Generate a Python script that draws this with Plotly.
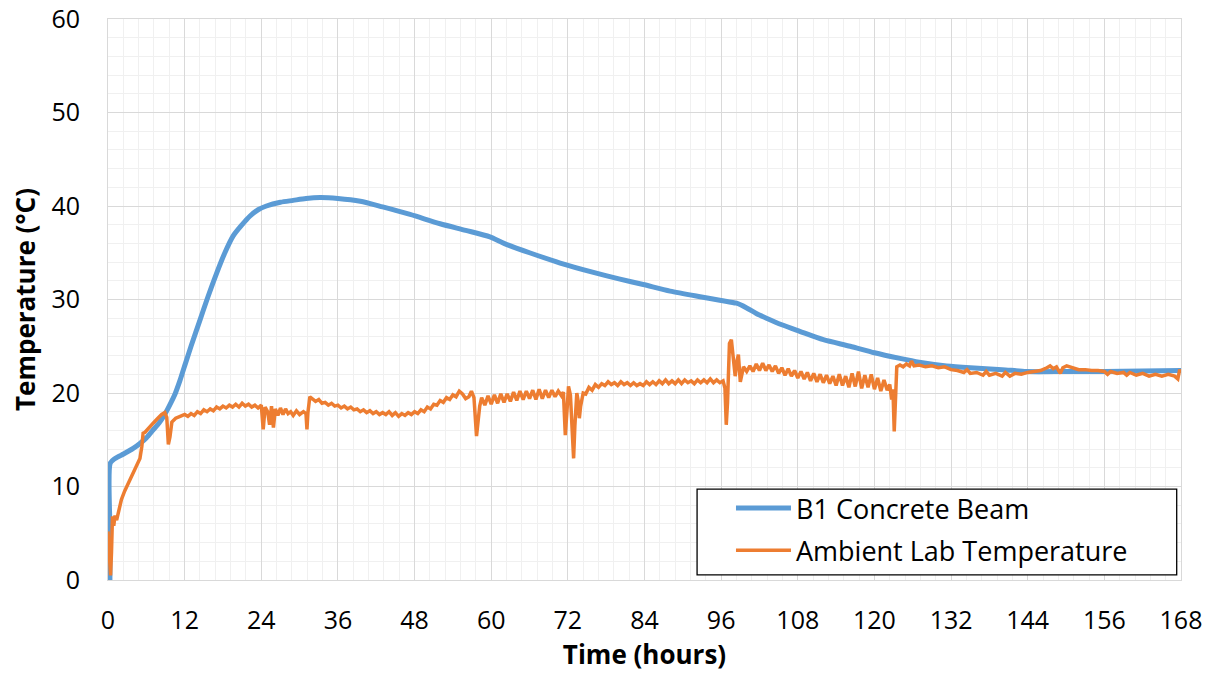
import plotly.graph_objects as go

# ---------------- data ----------------
beam_hours = [0.30, 0.32, 0.35, 1.1, 2.5, 4.0, 5.0, 6.0, 7.0, 8.0, 8.7, 9.5, 10.5, 11.3, 12.0,
              13.0, 14.4, 15.5, 17.0, 18.3, 19.6, 21.0, 22.2, 23.5, 24.8, 27.0, 29.0, 31.0,
              33.2, 36.0, 39.5, 43.0, 47.3, 52.0, 56.0, 59.8, 62.0, 66.0, 70.8, 76.0, 80.0,
              83.8, 88.0, 92.7, 96.0, 98.4, 100.0, 101.5, 103.1, 105.5, 108.3, 112.0, 116.2,
              120.0, 124.0, 127.0, 131.3, 135.0, 140.0, 143.8, 150.0, 156.0, 162.0, 168.0]
beam_temp = [0.0, 5.0, 12.5, 13.0, 13.5, 14.1, 14.6, 15.2, 16.0, 16.8, 17.5, 18.5, 19.9, 21.4, 22.9,
             25.0, 27.8, 30.0, 32.8, 35.0, 36.8, 38.0, 38.9, 39.6, 40.0, 40.4, 40.6, 40.8,
             40.9, 40.8, 40.5, 39.9, 39.1, 38.1, 37.4, 36.7, 36.0, 35.0, 33.9, 32.9, 32.2,
             31.6, 30.9, 30.3, 29.9, 29.6, 29.1, 28.5, 28.0, 27.3, 26.6, 25.7, 25.0,
             24.3, 23.7, 23.3, 22.9, 22.7, 22.5, 22.3, 22.3, 22.3, 22.35, 22.4]

ambient_hours = [
    0.0, 0.2, 0.4, 0.55, 0.7, 0.9, 1.1, 1.35, 1.7, 2.1, 2.6, 3.2, 3.7, 4.2, 4.6, 5.0, 5.3, 5.5,
    5.8, 6.4, 7.1, 7.8, 8.4, 8.9, 9.2, 9.45, 9.7, 10.0, 10.6, 11.3, 12.0,
    12.5, 13.0, 13.5, 14.0, 14.5, 15.0, 15.5, 16.0, 16.5, 17.0, 17.5, 18.0, 18.5, 19.0, 19.5,
    20.0, 20.5, 21.0, 21.5, 22.0, 22.5, 23.0, 23.5, 24.0,
    24.3, 24.6, 25.0, 25.3, 25.6, 25.9, 26.2, 26.6, 27.0, 27.4, 27.8, 28.2, 28.6, 29.0, 29.5,
    30.0, 30.6, 31.0, 31.15, 31.3, 31.6, 32.0, 32.5, 33.0, 33.5, 34.0, 34.5, 35.0, 35.5, 36.0,
    36.5, 37.0, 37.5, 38.0, 38.5, 39.0, 39.5, 40.0, 40.5, 41.0, 41.5, 42.0, 42.5, 43.0, 43.5,
    44.0, 44.5, 45.0, 45.5, 46.0, 46.5, 47.0, 47.5, 48.0, 48.5, 49.0, 49.5, 50.0, 50.5, 51.0,
    51.5, 52.0, 52.5, 53.0, 53.5, 54.0, 54.5, 55.0, 55.5, 56.0, 56.5, 56.9, 57.3, 57.7, 58.0,
    58.2, 58.5, 59.0, 59.5, 60.0, 60.5, 61.0, 61.5, 62.0, 62.5, 63.0, 63.5, 64.0, 64.5, 65.0,
    65.5, 66.0, 66.5, 67.0, 67.5, 68.0, 68.5, 69.0, 69.5, 70.0, 70.5, 71.0, 71.3, 71.6, 71.9,
    72.1, 72.4, 72.7, 72.9, 73.1, 73.4, 73.6, 73.8, 74.0, 74.4, 74.8, 75.3, 75.8, 76.3, 76.8,
    77.3, 77.8, 78.3, 78.8, 79.3, 79.8, 80.3, 80.8, 81.3, 81.8, 82.3, 82.8, 83.3, 83.8, 84.3,
    84.8, 85.3, 85.8, 86.3, 86.8, 87.3, 87.8, 88.3, 88.8, 89.3, 89.8, 90.3, 90.8, 91.3, 91.8,
    92.3, 92.8, 93.3, 93.8, 94.3, 94.8, 95.3, 95.8, 96.3, 96.6, 96.8, 97.0, 97.3, 97.6, 97.9,
    98.2, 98.5, 98.7, 99.0, 99.2, 99.5, 100.0, 100.5, 101.0, 101.5, 102.0, 102.5, 103.0, 103.5,
    104.0, 104.5, 105.0, 105.5, 106.0, 106.5, 107.0, 107.5, 108.0, 108.5, 109.0, 109.5, 110.0,
    110.5, 111.0, 111.5, 112.0, 112.5, 113.0, 113.5, 114.0, 114.5, 115.0, 115.5, 116.0, 116.5,
    117.0, 117.5, 118.0, 118.5, 119.0, 119.5, 120.0, 120.5, 121.0, 121.5, 122.0, 122.4, 122.7,
    122.9, 123.1, 123.3, 123.5, 124.0, 124.5, 125.0, 125.5, 125.8, 126.2, 127.0, 128.0, 129.0,
    130.0, 131.0, 132.0, 133.0, 134.0, 134.5, 135.0, 136.0, 137.0, 137.5, 138.0, 139.0, 140.0,
    140.5, 141.2, 142.0, 143.0, 144.0, 145.0, 146.0, 147.0, 147.5, 148.0, 148.5, 149.1, 149.5,
    150.1, 151.0, 152.0, 153.0, 154.0, 155.0, 156.0, 156.5, 157.0, 158.0, 159.0, 159.5, 160.0,
    161.0, 162.0, 163.0, 164.0, 165.0, 166.0, 167.0, 167.5, 167.8, 168.0]
ambient_temp = [
    5.2, 2.0, 0.5, 3.0, 6.8, 5.8, 6.9, 6.4, 7.6, 8.6, 9.5, 10.4, 11.1, 11.8, 12.4, 13.0, 14.3, 15.7,
    15.8, 16.3, 16.8, 17.3, 17.7, 17.9, 17.4, 14.5, 15.3, 16.9, 17.3, 17.5, 17.7,
    17.5, 17.8, 17.6, 18.0, 17.8, 18.2, 18.0, 18.3, 18.1, 18.5, 18.3, 18.6, 18.4, 18.7, 18.5,
    18.8, 18.5, 18.9, 18.6, 18.8, 18.5, 18.7, 18.4, 18.7,
    16.1, 18.5, 18.0, 16.6, 18.6, 16.3, 18.3, 17.6, 18.4, 17.7, 18.3, 17.8, 18.0, 17.6, 18.1,
    17.7, 18.0, 17.8, 16.1, 17.9, 19.6, 19.4, 19.1, 19.3, 18.9, 19.0, 18.7, 18.9, 18.6, 18.7,
    18.4, 18.6, 18.3, 18.5, 18.2, 18.3, 18.0, 18.2, 17.9, 18.1, 17.8, 18.0, 17.7, 17.9, 17.7,
    18.0, 17.6, 17.9, 17.5, 17.8, 17.6, 17.9, 17.7, 18.0, 17.8, 18.2, 18.0, 18.5, 18.3, 18.8,
    18.7, 19.2, 19.0, 19.5, 19.3, 19.8, 19.6, 20.2, 19.9, 19.4, 19.6, 20.2, 19.5, 15.4, 17.5,
    18.6, 19.5, 18.7, 19.7, 18.8, 19.8, 18.9, 19.9, 19.0, 19.9, 19.1, 20.1, 19.2, 20.2, 19.3,
    20.2, 19.4, 20.3, 19.3, 20.4, 19.4, 20.3, 19.5, 20.3, 19.6, 20.2, 19.7, 20.1, 15.5, 18.5,
    20.7, 19.8, 16.0, 13.0, 16.5, 20.0, 19.2, 17.3, 18.6, 20.0, 19.9, 20.6, 20.3, 20.9, 20.6,
    21.0, 20.8, 21.2, 20.9, 21.1, 20.8, 21.2, 20.9, 21.1, 20.8, 21.1, 20.8, 21.0, 20.8, 21.2,
    20.9, 21.2, 20.9, 21.3, 21.0, 21.4, 21.0, 21.3, 21.0, 21.4, 21.0, 21.4, 21.1, 21.3, 21.0,
    21.4, 21.1, 21.4, 21.1, 21.5, 21.1, 21.4, 21.1, 21.3, 20.5, 16.6, 19.0, 25.3, 25.7, 23.9,
    21.8, 23.5, 24.1, 21.2, 22.0, 22.8, 22.3, 22.9, 22.3, 23.1, 22.4, 23.2, 22.4, 23.0,
    22.3, 22.9, 22.1, 22.7, 21.9, 22.6, 21.8, 22.4, 21.6, 22.3, 21.5, 22.2, 21.3,
    22.1, 21.2, 22.0, 21.1, 21.9, 21.0, 21.8, 20.8, 22.0, 20.8, 21.8, 20.6, 22.1,
    20.7, 22.3, 20.5, 21.9, 20.6, 22.0, 20.4, 21.6, 20.2, 21.4, 20.3, 20.9, 19.3,
    20.4, 15.9, 19.5, 22.8, 23.0, 22.8, 23.1, 22.9, 23.4, 22.9, 23.0, 22.8, 22.9,
    22.7, 22.8, 22.5, 22.4, 22.2, 22.5, 22.1, 22.2, 21.9, 22.3, 21.9, 22.1, 21.8,
    22.2, 21.8, 22.1, 22.0, 22.2, 22.3, 22.4, 22.7, 22.9, 22.6, 22.8, 22.1, 22.7,
    22.9, 22.7, 22.5, 22.5, 22.4, 22.4, 22.3, 22.0, 22.3, 22.1, 22.2, 21.9, 22.2,
    21.9, 22.1, 21.8, 22.0, 21.8, 22.0, 21.8, 21.5, 22.5, 22.2]

x_ticks = [0, 12, 24, 36, 48, 60, 72, 84, 96, 108, 120, 132, 144, 156, 168]
y_ticks = [0, 10, 20, 30, 40, 50, 60]

FONT = "Open Sans"

fig = go.Figure()
fig.add_trace(go.Scatter(x=beam_hours, y=beam_temp, mode="lines", name="B1 Concrete Beam",
                         line=dict(color="#5B9BD5", width=5, shape="spline", smoothing=0.7),
                         legendgroup="a"))
fig.add_trace(go.Scatter(x=ambient_hours, y=ambient_temp, mode="lines",
                         name="Ambient Lab Temperature",
                         line=dict(color="#ED7D31", width=3.5), legendgroup="b"))

axis_common = dict(
    showgrid=True, gridcolor="#d9d9d9", gridwidth=1, automargin=False,
    zeroline=False, showline=True, linecolor="#d9d9d9", linewidth=1, mirror=True,
    ticks="", tickfont=dict(family=FONT, size=25, color="#000000"),
)

fig.update_xaxes(
    range=[0, 168], tickmode="array", tickvals=x_ticks, ticktext=[str(v) for v in x_ticks],
    minor=dict(dtick=2.4, tick0=0, showgrid=True, gridcolor="#f0f0f0", gridwidth=1),
    title=dict(text="<b>Time (hours)</b>", font=dict(family=FONT, size=26, color="#000000"),
               standoff=8),
    ticklabelstandoff=18,
    **axis_common,
)
fig.update_yaxes(
    range=[0, 60], tickmode="array", tickvals=y_ticks, ticktext=[str(v) for v in y_ticks],
    minor=dict(dtick=2, tick0=0, showgrid=True, gridcolor="#f0f0f0", gridwidth=1),
    title=dict(text="<b>Temperature (°C)</b>", font=dict(family=FONT, size=26, color="#000000"),
               standoff=8),
    ticklabelstandoff=22,
    **axis_common,
)

fig.update_layout(
    width=1213, height=677,
    margin=dict(l=108, r=32, t=19, b=97),
    plot_bgcolor="#ffffff", paper_bgcolor="#ffffff",
    font=dict(family=FONT, color="#000000"),
    shapes=[dict(type="rect", xref="paper", yref="paper", x0=0.549, x1=0.996, y0=0.009, y1=0.162,
                 line=dict(color="#000000", width=1.3), fillcolor="#ffffff", layer="above")],
    legend=dict(x=0.5806, y=0.171, xanchor="left", yanchor="top",
                bgcolor="rgba(0,0,0,0)", borderwidth=0,
                font=dict(family=FONT, size=27, color="#000000"),
                itemwidth=55, tracegroupgap=4, traceorder="grouped"),
)

fig.write_html("out.html")
